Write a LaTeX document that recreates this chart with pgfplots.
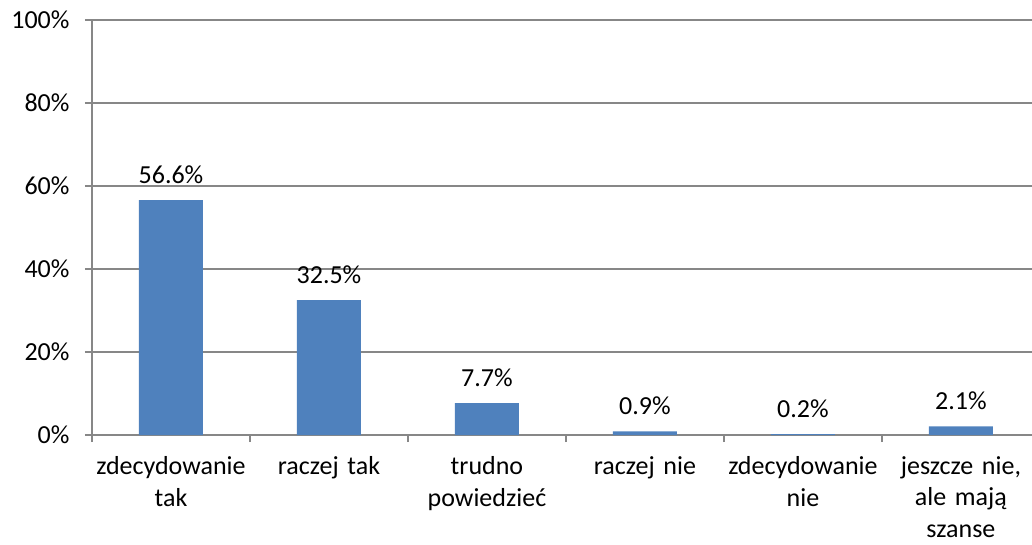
\documentclass[border=0pt]{standalone}
\usepackage{fontspec}
\setmainfont{Carlito}
\usepackage{pgfplots}
\pgfplotsset{compat=1.18}
\definecolor{barblue}{HTML}{4F81BD}
\definecolor{gridgray}{HTML}{878787}
\newcommand{\chartfont}{\fontsize{26}{31.5}\selectfont}
\begin{document}
\begin{tikzpicture}[font=\chartfont]
\useasboundingbox (-92pt,-109pt) rectangle (940pt,435pt);
\begin{axis}[
  at={(0pt,0pt)}, anchor=south west,
  scale only axis, width=940pt, height=415pt,
  xmin=-0.5, xmax=5.45, ymin=0, ymax=100,
  axis x line*=bottom, axis y line*=left,
  axis line style={gridgray, line width=1.3pt, -},
  ytick={0,20,...,100},
  ymajorgrids, grid style={gridgray, line width=1.3pt},
  yticklabel={\pgfmathprintnumber{\tick}\%},
  /pgf/number format/assume math mode=true,
  yticklabel style={font=\chartfont, xshift=-12pt},
  tick align=outside,
  major tick length=7pt, minor tick length=7pt,
  tick style={gridgray, line width=1.3pt},
  major x tick style={draw=none},
  xtick={0,1,2,3,4,5},
  minor xtick={-0.5,0.5,1.5,2.5,3.5,4.5},
  xticklabels={{zdecydowanie\\tak}, {raczej tak}, {trudno\\powiedzieć}, {raczej nie}, {zdecydowanie\\nie}, {jeszcze nie,\\ale mają\\szanse}},
  xticklabel style={font=\chartfont, align=center, text width=160pt, yshift=-11pt},
  nodes near coords={\pgfmathprintnumber[fixed,precision=1,fixed zerofill]{\pgfplotspointmeta}\%},
  every node near coord/.style={font=\chartfont, anchor=base, yshift=17pt, text=black},
]
\addplot[ybar, bar width=64pt, fill=barblue, draw=none] coordinates {
 (0,56.6) (1,32.5) (2,7.7) (3,0.9) (4,0.2) (5,2.1)};
\end{axis}
\end{tikzpicture}
\end{document}
